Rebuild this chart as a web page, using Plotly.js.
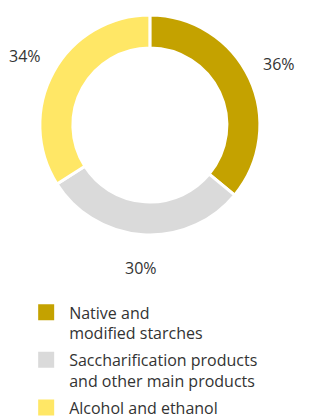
<!DOCTYPE html>
<html>
<head>
<meta charset="utf-8">
<script src="https://cdn.plot.ly/plotly-3.0.1.min.js"></script>
<style>html,body{margin:0;padding:0;background:#fff;}#chart{width:309px;height:416px;}</style>
</head>
<body>
<div id="chart"></div>
<script>
var categories = ["Native and<br>modified starches", "Saccharification products<br>and other main products", "Alcohol and ethanol"];
var shares = [36, 30, 34];
var colors = ["#C4A200", "#DADADA", "#FFE766"];

var W = 309, H = 416;
var dom = {x: [0.129, 0.841], y: [0.435, 0.964]};
var FONT = "Open Sans, sans-serif";

var pie = {
  type: "pie",
  labels: categories,
  values: shares,
  sort: false,
  direction: "clockwise",
  rotation: 0,
  hole: 0.7,
  marker: {colors: colors, line: {color: "#ffffff", width: 3}},
  textinfo: "none",
  hoverinfo: "none",
  showlegend: false,
  domain: dom
};

// legend entries (square swatches), one per category
var legendTraces = categories.map(function (c, i) {
  return {
    type: "scatter", mode: "markers",
    x: [null], y: [null],
    name: c,
    legendgroup: "g" + i,
    marker: {symbol: "square", size: 19, color: colors[i]},
    showlegend: true, hoverinfo: "none"
  };
});

// percentage labels placed outside, at each slice's mid-angle
var total = shares.reduce(function (a, b) { return a + b; }, 0);
var cx = (dom.x[0] + dom.x[1]) / 2 * W;
var cy = (1 - (dom.y[0] + dom.y[1]) / 2) * H;
var rOuter = (dom.x[1] - dom.x[0]) * W / 2;
var rLabel = rOuter * 1.3;
var cum = 0;
var annotations = shares.map(function (v) {
  var mid = (cum + v / 2) / total;
  cum += v;
  var th = 2 * Math.PI * mid;
  var px = cx + rLabel * Math.sin(th);
  var py = cy - rLabel * Math.cos(th);
  return {
    xref: "paper", yref: "paper",
    x: px / W, y: 1 - py / H,
    xanchor: "center", yanchor: "middle",
    text: Math.round(v / total * 100) + "%",
    showarrow: false,
    font: {family: FONT, size: 16, color: "#333333"}
  };
});

var layout = {
  width: W,
  height: H,
  margin: {l: 0, r: 0, t: 0, b: 0, autoexpand: false},
  paper_bgcolor: "#ffffff",
  plot_bgcolor: "rgba(0,0,0,0)",
  showlegend: true,
  font: {family: FONT, size: 16, color: "#333333"},
  xaxis: {visible: false, domain: [0, 0.01]},
  yaxis: {visible: false, domain: [0, 0.01]},
  annotations: annotations,
  legend: {
    x: 0.075, xanchor: "left",
    y: 0.29, yanchor: "top",
    font: {family: FONT, size: 16, color: "#333333"},
    traceorder: "grouped",
    valign: "top",
    tracegroupgap: 3,
    itemwidth: 36,
    itemclick: false
  }
};

Plotly.newPlot("chart", [pie].concat(legendTraces), layout, {staticPlot: true, displayModeBar: false});
</script>
</body>
</html>
